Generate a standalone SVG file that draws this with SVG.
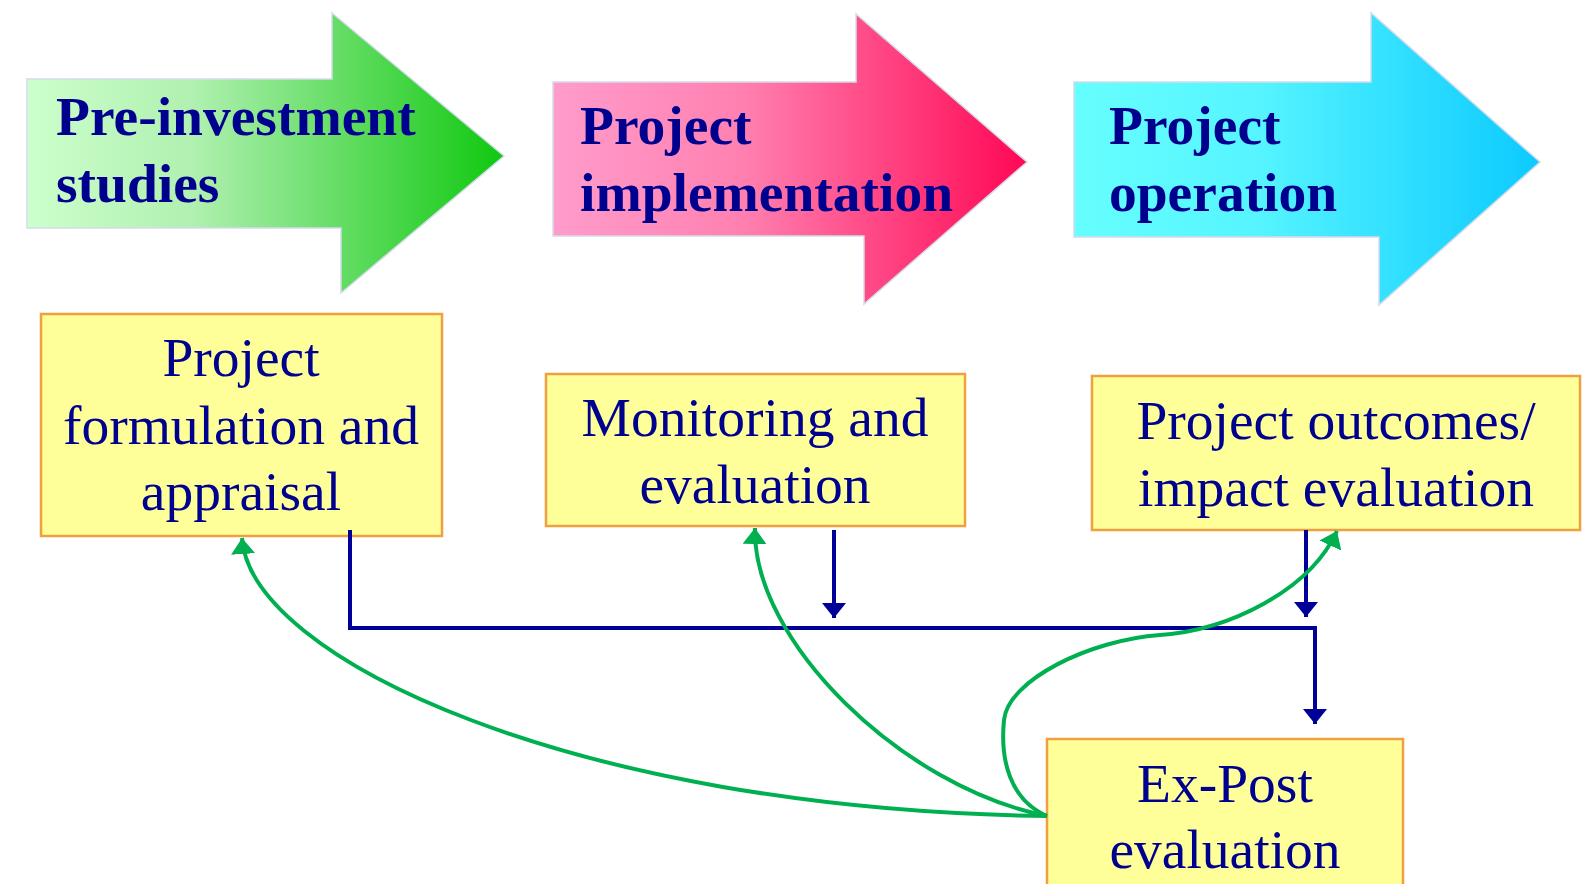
<svg xmlns="http://www.w3.org/2000/svg" width="1588" height="884" viewBox="0 0 1588 884">
  <defs>
    <linearGradient id="gGreen" x1="0" y1="0" x2="1" y2="0">
      <stop offset="0" stop-color="#CCFFCC"/>
      <stop offset="0.35" stop-color="#B0F0B0"/>
      <stop offset="1" stop-color="#10C810"/>
    </linearGradient>
    <linearGradient id="gPink" x1="0" y1="0" x2="1" y2="0">
      <stop offset="0" stop-color="#FF9CCB"/>
      <stop offset="0.4" stop-color="#FF80B0"/>
      <stop offset="1" stop-color="#FF0855"/>
    </linearGradient>
    <linearGradient id="gCyan" x1="0" y1="0" x2="1" y2="0">
      <stop offset="0" stop-color="#66FFFF"/>
      <stop offset="0.4" stop-color="#55F4FF"/>
      <stop offset="1" stop-color="#0CCAFF"/>
    </linearGradient>
    <marker id="mBlue" markerUnits="userSpaceOnUse" markerWidth="16" markerHeight="26" viewBox="0 0 16 26" refX="15" refY="13" orient="auto">
      <path d="M0,1 L15,13 L0,25 Z" fill="#000099"/>
    </marker>
    <marker id="mGreen" markerUnits="userSpaceOnUse" markerWidth="17" markerHeight="24" viewBox="0 0 17 24" refX="16" refY="12" orient="auto">
      <path d="M0,0 L16,12 L0,24 Z" fill="#00B050"/>
    </marker>
  </defs>
  <style>
    .phase { stroke: #D3DCEA; stroke-width: 1.5; }
    .phaseText { font-family: "Liberation Serif", "Times New Roman", serif; font-weight: bold; font-size: 55.5px; fill: #00008F; }
    .box { fill: #FFFF99; stroke: #F0A040; stroke-width: 2.5; }
    .boxText { font-family: "Liberation Serif", "Times New Roman", serif; font-size: 55.5px; fill: #00008F; text-anchor: middle; }
    .blue { fill: none; stroke: #000099; stroke-width: 4; }
    .green { fill: none; stroke: #00B050; stroke-width: 4; }
  </style>

  <g id="phase-pre-investment">
    <polygon class="phase" fill="url(#gGreen)" points="27,79 332,79 332,13 504,156 341,293 341,228 27,228"/>
    <text class="phaseText" x="56" y="135">Pre-investment</text>
    <text class="phaseText" x="56" y="202">studies</text>
  </g>
  <g id="phase-implementation">
    <polygon class="phase" fill="url(#gPink)" points="553,82 856,82 856,14 1027,162 864,304 864,236 553,236"/>
    <text class="phaseText" x="580" y="144">Project</text>
    <text class="phaseText" x="580" y="211">implementation</text>
  </g>
  <g id="phase-operation">
    <polygon class="phase" fill="url(#gCyan)" points="1074,82 1371,82 1371,13 1540,162 1379,305 1379,237 1074,237"/>
    <text class="phaseText" x="1109" y="144">Project</text>
    <text class="phaseText" x="1109" y="211">operation</text>
  </g>

  <g id="box-formulation">
    <rect class="box" x="41" y="314" width="401" height="222"/>
    <text class="boxText" x="241" y="376">Project</text>
    <text class="boxText" x="241" y="444">formulation and</text>
    <text class="boxText" x="241" y="510">appraisal</text>
  </g>
  <g id="box-monitoring">
    <rect class="box" x="546" y="374" width="419" height="152"/>
    <text class="boxText" x="755" y="436">Monitoring and</text>
    <text class="boxText" x="755" y="503">evaluation</text>
  </g>
  <g id="box-outcomes">
    <rect class="box" x="1092" y="376" width="488" height="154"/>
    <text class="boxText" x="1336" y="439">Project outcomes/</text>
    <text class="boxText" x="1336" y="506">impact evaluation</text>
  </g>
  <g id="box-expost">
    <rect class="box" x="1047" y="739" width="356" height="170"/>
    <text class="boxText" x="1225" y="802">Ex-Post</text>
    <text class="boxText" x="1225" y="868">evaluation</text>
  </g>

  <g id="connectors">
    <path class="blue" d="M350,530 V628 H1315 V724" marker-end="url(#mBlue)"/>
    <path class="blue" d="M834,530 V618" marker-end="url(#mBlue)"/>
    <path class="blue" d="M1306,530 V617" marker-end="url(#mBlue)"/>
    <path class="green" d="M1047,816 C574,810 250,658 242,538" marker-end="url(#mGreen)"/>
    <path class="green" d="M1047,816 C901,787 752,640 755,528" marker-end="url(#mGreen)"/>
    <path class="green" d="M1047,816 C1010,800 1000,760 1004,720 C1008,680 1090,640 1160,635 C1230,630 1310,590 1337,531" marker-end="url(#mGreen)"/>
  </g>
</svg>
